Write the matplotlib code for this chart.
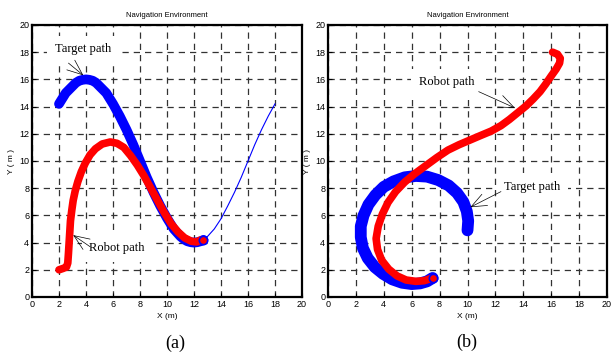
import matplotlib
matplotlib.use("Agg")
import matplotlib.pyplot as plt

# (a) target path - thick part followed by the thin remainder
tgt_a_x = [2.0, 2.5, 3.0, 3.25, 3.5, 3.75, 4.0, 4.25, 4.5, 4.75, 5.0, 5.5, 6.0, 6.5, 7.0, 7.5, 8.0, 8.5, 9.0, 9.5, 10.0, 10.5, 11.0, 11.25, 11.5, 11.75, 12.0, 12.25, 12.5, 12.7]
tgt_a_y = [14.2, 15.0, 15.5, 15.75, 15.9, 15.97, 16.0, 15.97, 15.9, 15.75, 15.5, 15.0, 14.2, 13.3, 12.3, 11.2, 10.0, 8.8, 7.7, 6.7, 5.8, 5.0, 4.45, 4.25, 4.1, 4.03, 4.0, 4.03, 4.1, 4.2]
tgt_a_thin_x = [12.7, 13.0, 13.5, 14.0, 14.5, 15.0, 15.5, 16.0, 16.5, 17.0, 17.5, 18.0]
tgt_a_thin_y = [4.2, 4.45, 5.0, 5.75, 6.7, 7.7, 8.8, 10.0, 11.2, 12.3, 13.3, 14.2]

# (a) robot path
rob_a_x = [2.0, 2.3, 2.55, 2.65, 2.7, 2.75, 2.8, 2.85, 2.95, 3.05, 3.2, 3.4, 3.65, 3.95, 4.3, 4.7, 5.2, 5.8, 6.3, 6.8, 7.3, 7.8, 8.3, 8.8, 9.3, 9.8, 10.3, 10.8, 11.3, 11.8, 12.2, 12.5]
rob_a_y = [2.0, 2.1, 2.2, 2.5, 3.2, 4.0, 4.8, 5.6, 6.4, 7.1, 7.8, 8.5, 9.2, 9.85, 10.45, 10.9, 11.25, 11.4, 11.3, 11.0, 10.4, 9.7, 8.9, 8.0, 7.1, 6.2, 5.4, 4.8, 4.35, 4.1, 4.05, 4.2]

# (b) target path (arc)
tgt_b_x = [10.0, 10.05, 9.95, 9.7, 9.25, 8.65, 7.9, 7.1, 6.3, 5.5, 4.7, 4.0, 3.4, 2.9, 2.55, 2.35, 2.35, 2.5, 2.85, 3.35, 3.95, 4.6, 5.3, 6.0, 6.6, 7.1, 7.5]
tgt_b_y = [4.9, 5.6, 6.3, 7.0, 7.65, 8.2, 8.6, 8.85, 8.9, 8.8, 8.5, 8.1, 7.5, 6.8, 6.0, 5.2, 4.4, 3.6, 2.85, 2.2, 1.7, 1.3, 1.05, 0.95, 1.0, 1.15, 1.4]

# (b) robot path
rob_b_x = [16.1, 16.45, 16.65, 16.6, 16.35, 16.0, 15.6, 15.2, 14.7, 14.2, 13.6, 13.0, 12.4, 11.7, 11.0, 10.2, 9.4, 8.6, 7.8, 7.0, 6.2, 5.5, 4.85, 4.3, 3.9, 3.6, 3.45, 3.55, 3.85, 4.35, 4.95, 5.6, 6.3, 6.9, 7.5]
rob_b_y = [18.0, 17.85, 17.55, 17.2, 16.75, 16.25, 15.65, 15.1, 14.55, 14.05, 13.55, 13.05, 12.6, 12.2, 11.9, 11.55, 11.2, 10.8, 10.25, 9.65, 9.05, 8.45, 7.75, 6.95, 6.1, 5.2, 4.3, 3.5, 2.7, 2.05, 1.55, 1.25, 1.15, 1.2, 1.4]

ticks = list(range(0, 21, 2))
blue = "#0000ff"
red = "#ff0000"
serif = "Liberation Serif"
sans = "Liberation Sans"


def setup(ax):
    ax.set_xlim(0, 20)
    ax.set_ylim(0, 20)
    ax.set_xticks(ticks)
    ax.set_yticks(ticks)
    ax.set_axisbelow(True)
    ax.grid(True, ls=(0, (5, 4)), color="0.2", lw=0.9)
    ax.tick_params(direction="in", length=3, width=0.8, labelsize=6.5, pad=2)
    for lab in ax.get_xticklabels() + ax.get_yticklabels():
        lab.set_family(sans)
    for s in ax.spines.values():
        s.set_linewidth(1.6)
    ax.set_title("Navigation Environment", fontsize=5.5, family=sans, pad=6)
    ax.set_xlabel("X (m)", fontsize=6, family=sans, labelpad=3)
    ax.set_ylabel("Y ( m )", fontsize=6, family=sans, labelpad=3)


def note(ax, text, tip, tail, textpos):
    # label sits on a white patch that hides the grid, as in the original
    ax.text(textpos[0], textpos[1], text, fontsize=9, family=serif,
            ha="left", va="center", zorder=3,
            bbox=dict(boxstyle="square,pad=0.6", fc="white", ec="none"))
    ax.annotate("", xy=tip, xytext=tail, zorder=4,
                arrowprops=dict(arrowstyle="->,head_length=1.1,head_width=0.45",
                                lw=0.5, color="k", shrinkA=0, shrinkB=0))


def path(ax, xs, ys, color, lw):
    ax.plot(xs, ys, color=color, lw=lw, solid_capstyle="round", solid_joinstyle="round")


fig = plt.figure(figsize=(6.11, 3.58), dpi=100)
ax1 = fig.add_axes([32 / 611, 61 / 358, 270 / 611, 272 / 358])
ax2 = fig.add_axes([328 / 611, 61 / 358, 279 / 611, 272 / 358])

setup(ax1)
ax1.plot(tgt_a_thin_x, tgt_a_thin_y, color=blue, lw=0.8)
path(ax1, tgt_a_x, tgt_a_y, blue, 7)
path(ax1, rob_a_x, rob_a_y, red, 5.5)
ax1.plot(tgt_a_x[-1], tgt_a_y[-1], "o", ms=6, mec=blue, mfc=red, mew=1.2)
note(ax1, "Target path", (3.8, 16.3), (2.7, 17.2), (1.7, 18.2))
note(ax1, "Robot path", (3.05, 4.55), (4.3, 3.7), (4.25, 3.6))

setup(ax2)
path(ax2, tgt_b_x, tgt_b_y, blue, 8.5)
path(ax2, rob_b_x, rob_b_y, red, 5.5)
ax2.plot(tgt_b_x[-1], tgt_b_y[-1], "o", ms=6, mec=blue, mfc=red, mew=1.2)
note(ax2, "Robot path", (13.4, 13.9), (10.8, 15.1), (6.5, 15.8))
note(ax2, "Target path", (10.2, 6.6), (12.4, 7.75), (12.65, 8.1))

fig.text(175 / 611, 1 - 343 / 358, "(a)", fontsize=13, family=serif, ha="center", va="center")
fig.text(467 / 611, 1 - 342 / 358, "(b)", fontsize=13, family=serif, ha="center", va="center")

fig.savefig("out.png", dpi=100)
